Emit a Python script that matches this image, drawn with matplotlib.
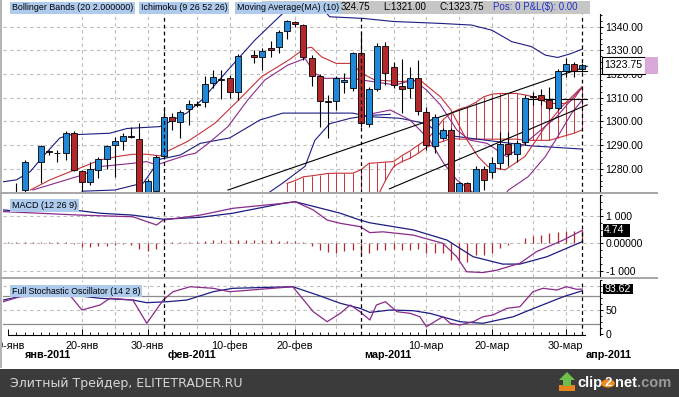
import numpy as np
import pandas as pd
import matplotlib
matplotlib.use('Agg')
import matplotlib.pyplot as plt
from matplotlib.patches import Rectangle, Circle, Polygon
from matplotlib.ticker import MultipleLocator, FixedLocator

plt.rcParams['font.family'] = ['Liberation Sans', 'DejaVu Sans']

# bar dates - the feed has a bar for every day except saturday
dates = pd.date_range('2011-01-10', '2011-04-01')
dates = dates[dates.dayofweek != 5]
slot = np.arange(len(dates))
months_ru = {1: 'янв', 2: 'фев', 3: 'мар', 4: 'апр'}

nan = np.nan
opens = [1266, 1266, 1271.1, nan, 1282.8, 1287.5, 1286.5, 1286.8, 1295.3, 1279.1,
         1274.3, 1279.3, 1284.3, 1290.2, 1291.9, 1293.9, 1292.5, 1268, 1270.5, 1285.4,
         1302.0, 1299.6, 1305.1, 1307.4, 1308.1, 1316.1, 1317.5, 1318.5, 1312.6, nan,
         1328.0, 1327.1, 1330.9, 1331.3, 1338.3, 1342.0, 1340.7, 1326.6, 1319.2, 1308.5,
         1308.6, 1316.7, 1314.0, 1328.8, 1298.9, 1313.7, 1331.8, 1323.1, 1315.0, 1314.0,
         1318.5, 1303.9, 1289.8, 1292.9, 1296.4, 1266, 1274.0, 1268, 1279.8, 1278.8,
         1282.6, 1290.5, 1286.3, 1291.1, 1310.8, 1311.2, 1309.0, 1305.6, 1321.4, 1324.1,
         1322.0]
highs = [1268, 1274, 1283.5, nan, 1290.2, 1288, 1287.9, 1295.8, 1295.8, 1279.5,
         1283, 1285, 1290, 1293.5, 1295, 1297.8, 1299.2, 1275.5, 1286, 1306.2,
         1303.5, 1305, 1309, 1308.5, 1319, 1321.7, 1321.7, 1319.5, 1328.5, nan,
         1330, 1331, 1334, 1338.5, 1343, 1342.5, 1341, 1328, 1320, 1311,
         1319, 1320.3, 1329.5, 1338, 1314.5, 1333.2, 1333.7, 1325, 1326.5, 1323,
         1326, 1306, 1303, 1297, 1297, 1274.5, 1274.5, 1281, 1281, 1285,
         1295.7, 1295.7, 1292, 1311, 1312.5, 1313.7, 1314.7, 1322, 1326.7, 1325,
         1324.75]
lows = [1262, 1262, 1266, nan, 1274, 1286, 1283, 1283.5, 1279.1, 1270.4,
        1273, 1276, 1280, 1276.7, 1288, 1292.9, 1265, 1266, 1269, 1284,
        1296.4, 1293, 1298.5, 1306, 1306.2, 1314, 1309.5, 1309.8, 1309.1, nan,
        1324.6, 1321.7, 1327, 1329, 1335, 1340, 1326, 1315, 1297.5, 1293,
        1304.8, 1311.9, 1313, 1297.5, 1297.5, 1313, 1315.4, 1314, 1303.5, 1310,
        1302.7, 1288, 1286.7, 1292.5, 1262, 1262, 1262, 1266, 1271, 1276,
        1280, 1281, 1283, 1290, 1307, 1307, 1304.8, 1305, 1318.9, 1318.8,
        1321.0]
closes = [1267, 1269, 1282.8, nan, 1289.8, 1287.0, 1286.8, 1295.3, 1279.5, 1274.3,
          1280.0, 1283.9, 1289.6, 1291.9, 1293.9, 1293.2, 1268, 1274.6, 1285.1, 1302.0,
          1300.2, 1304.1, 1307.4, 1307.0, 1315.8, 1318.6, 1317.6, 1312.6, 1327.6, nan,
          1327.3, 1329.9, 1330.2, 1337.9, 1342.5, 1341.1, 1327.3, 1319.3, 1308.6, 1308.0,
          1318.5, 1317.6, 1328.8, 1299.2, 1313.7, 1331.8, 1320.3, 1315.4, 1313.7, 1318.5,
          1304.4, 1290.1, 1302.0, 1296.4, 1266, 1274.0, 1266, 1279.8, 1275.3, 1282.4,
          1290.5, 1286.2, 1290.8, 1309.8, 1310.1, 1309.0, 1305.6, 1321.4, 1324.3, 1321.4,
          1323.75]

# indicator lines at (bar, value) points
bb_up_x = [-0.6, 1, 2.7, 4.2, 6.3, 7.5, 12.4, 14.5, 18.5, 20.1, 21.8, 23.6, 26.8, 30.1, 32.9,
           34.5, 38, 39.2, 43.3, 47, 52.7, 56.5, 59, 61.4, 63.8, 65.5, 67, 68.5, 70]
bb_up_y = [1274.5, 1275.3, 1278.8, 1285, 1293, 1294.3, 1295, 1297, 1297.8, 1300.6, 1303.6,
           1309, 1321.7, 1334.4, 1343.7, 1349, 1349, 1344.2, 1343.5, 1342.2, 1341.4, 1340.7,
           1338.5, 1333.7, 1331.6, 1328, 1327, 1328.5, 1330.5]
kijun_x = [9, 13, 16.5, 18.5, 21, 23.4, 27, 30.7, 33.5, 42, 44, 47.8, 51, 52.7, 56.3, 63.6, 70]
kijun_y = [1270.5, 1271, 1274, 1284, 1285.8, 1290.7, 1293, 1300.6, 1303.5, 1303.5, 1302,
           1301.3, 1299, 1294.5, 1292.9, 1289.7, 1288.3]
bb_low_x = [31, 33.5, 36.2, 37.4, 39.2, 41.7, 44, 46.6]
bb_low_y = [1268, 1274, 1281, 1292, 1299, 1301.3, 1302.5, 1303]
ma_x = [2.7, 5.1, 7.1, 9.2, 11.2, 13.2, 15.2, 16.9, 18.5, 19.3, 21.8, 22.8, 25.2, 28.1, 30.9,
        34.2, 36.2, 37, 38.2, 40, 41.9, 43.1, 44.7, 47.8, 50.2, 52.7, 54, 55.7, 57.3, 58.5,
        60.6, 63, 65.5, 67.5, 70]
ma_y = [1271, 1275.3, 1278.1, 1280.9, 1283.7, 1285.1, 1286.1, 1286.1, 1285.4, 1287.2, 1291.4,
        1293.6, 1299.2, 1309, 1318.9, 1325.9, 1330.9, 1331.3, 1327.3, 1324.5, 1324.5, 1320.3,
        1317.5, 1316.8, 1317.5, 1310.4, 1304.8, 1293.5, 1285.1, 1280.9, 1279.5, 1285.1,
        1297.8, 1306.2, 1314.7]
tenkan_x = [3, 9.1, 11.2, 15.2, 16.9, 18.1, 19.3, 21.8, 22.8, 24.4, 26.8, 29.2, 31.3, 34.1,
            36.2, 37.4, 38.6, 41.9, 43.1, 47.2, 49.4, 51, 52.7, 54.7, 56.3, 58.4, 60.8, 62,
            64.5, 66.9, 69.7, 70]
tenkan_y = [1271, 1277.4, 1280.9, 1282.3, 1283, 1281.6, 1283, 1285.8, 1286.5, 1290.7, 1297.8,
            1309, 1317.5, 1323.8, 1326.6, 1320.3, 1318.2, 1318.2, 1317.5, 1315.4, 1317.5,
            1313.3, 1307, 1296.4, 1292.1, 1290.7, 1285.1, 1287.9, 1295, 1302, 1313.3, 1314]
lag_x = [44, 46.6, 49, 51.4, 53.1, 54.7, 56.3, 58, 60, 61, 63.4, 65.5, 67, 68.7, 70]
lag_y = [1303, 1304.8, 1300.6, 1292.1, 1282.3, 1275.3, 1271, 1266, 1266, 1271, 1276.6,
         1285.1, 1293.5, 1303.4, 1309]

# ichimoku cloud, one value per bar from bar 34 on
cloud_start = 34
span_a = [1273.8, 1275, 1276.6, 1277, 1277.5, 1278, 1278.1, 1278.1, 1278.1, 1279.5,
          1282.3, 1282.5, 1282.8, 1283, 1285.5, 1287.5, 1290, 1292.1, 1296, 1300.6,
          1303.5, 1305.2, 1306.2, 1308, 1310.4, 1311.5, 1311.8, 1311.8, 1311.8, 1311.2,
          1310.4, 1309, 1307.6, 1307.6, 1307.6, 1309.5, 1314.5]
span_b = [1262, 1262, 1262, 1262, 1262, 1262, 1262, 1262, 1262, 1262,
          1262, 1268, 1275, 1280.9, 1283, 1284.4, 1286.5, 1289, 1290.5, 1291.5,
          1292.9, 1292.5, 1292.5, 1292.5, 1292.5, 1292.5, 1292.5, 1292.5, 1292.5, 1292,
          1292, 1292, 1292, 1293, 1294, 1295, 1296.4]

# hand drawn trend lines (start bar, start price, end bar, end price)
trend_upper = (26.8, 1271.0, 70.6, 1323.3)
trend_lower = (46.5, 1271.5, 70.6, 1307.0)
flat_lines = [(63.0, 70.6, 1309.5), (67.5, 70.6, 1321.3)]

# MACD (12 26 9)
macd_x = [-0.6, 8.8, 15.2, 18.1, 18.9, 23.4, 27.4, 33.5, 35, 37.2, 38.9, 40.5, 42.9, 44.1,
          45.7, 49.4, 53, 54.7, 55.9, 57.9, 59.6, 62.4, 64.4, 67.7, 70]
macd_y = [11.6, 10.3, 9.7, 6.7, 8.5, 10.3, 12.8, 14.6, 15.2, 12.2, 8.5, 7.3, 6.1, 3.9, 4.2,
          3.0, 0.0, -4.9, -10.4, -10.7, -9.8, -7.3, -3.1, 1.2, 4.74]
signal_x = [-0.6, 1.4, 7.9, 11.2, 15.2, 18.9, 23.4, 27.4, 33.5, 35, 40.5, 42.9, 44.1, 49.4,
            53.5, 56.7, 60.3, 62.4, 65.7, 70]
signal_y = [12.2, 11.6, 12.2, 11.0, 10.3, 8.8, 9.5, 11.0, 14.6, 15.2, 11.0, 8.5, 7.5, 4.9,
            1.2, -4.9, -7.6, -7.6, -4.9, 0.6]
hist = [0.3, 0.3, 0.3, 0.3, 0.3, 0.3, 0.3, 0.3, -0.3, -1.5,
        -1.5, -1.1, -1.1, -0.7, -0.4, -0.7, -2.2, -2.9, -2.2, -0.3,
        0.3, 0.3, 0.4, 0.5, 0.8, 1.1, 1.1, 1.1, 1.1, 1.1,
        1.1, 1.1, 1.1, 1.0, 1.0, 0.8, 0.3, -1.1, -2.6, -3.3,
        -3.7, -2.9, -2.6, -3.7, -3.7, -2.6, -2.6, -2.2, -2.6, -2.6,
        -2.2, -3.7, -3.7, -3.7, -6.1, -6.1, -6.7, -4.4, -4.4, -3.7,
        -1.8, -0.7, 0.2, 1.8, 2.6, 2.9, 3.7, 4.3, 4.6, 4.6,
        4.9]

# full stochastic (14 2 8)
k_x = [-0.6, 1.4, 7.5, 9, 11.2, 12.4, 15.2, 16.9, 18.9, 20.1, 22.2, 25, 27, 34.7, 37.2, 38.9,
       40.5, 41.7, 42.9, 44.1, 44.9, 46, 47.4, 49, 50.2, 51, 53, 53.9, 55.1, 56.7, 57.9, 59.1,
       60.8, 62.4, 64, 65.2, 66.9, 68.1, 69.3, 70]
k_y = [67.3, 77.7, 81.3, 50, 60.4, 74.4, 70.8, 22.3, 70.8, 88.1, 98.5, 95.2, 88.1, 98.5, 46.5,
       25.6, 43.1, 60.4, 46.5, 29.2, 60.4, 67.3, 46.5, 43.1, 36, 15.2, 36, 22.3, 18.8, 25.6,
       36, 39.6, 53.5, 56.9, 88.1, 95.2, 91.7, 98.5, 93.1, 93.62]
d_x = [-0.6, 1.8, 8.8, 11.2, 15.2, 16.9, 19.4, 21.8, 25, 27.4, 34.7, 37.7, 40.5, 42.9, 44.1,
       46.6, 49.4, 51.4, 55.1, 57.9, 61.6, 63.6, 67.7, 70]
d_y = [70.8, 79.2, 79.2, 74.4, 70.8, 65.2, 67.3, 70.8, 88.1, 95.2, 98.5, 81.3, 64, 53.5, 45,
       50, 48.5, 43.1, 25.6, 22.3, 36, 50, 77.7, 90]

# colours
BLUE = '#1f88d8'
RED = '#b3282c'
NAVY = '#1c1c84'
PURPLE = '#8a2a8a'
LRED = '#c8323a'
GRID = '#bdbdbd'
LABEL_BG = '#aecbee'

W, H = 679, 397
fig = plt.figure(figsize=(W / 100, H / 100), dpi=100)
fig.patch.set_facecolor('white')


def fx(x):
    return x / W


def fy(y):
    return 1 - y / H


def px_axes(x0, y0, x1, y1):
    return fig.add_axes([fx(x0), fy(y1), (x1 - x0) / W, (y1 - y0) / H])


ax_p = px_axes(3, 14, 600, 193)
ax_m = px_axes(3, 195, 600, 277)
ax_s = px_axes(3, 280, 600, 335)

xmin, xmax = -0.634, 72.17
grid_targets = ['2011-01-20', '2011-01-25', '2011-01-30', '2011-02-05', '2011-02-10',
                '2011-02-15', '2011-02-20', '2011-02-25', '2011-03-05', '2011-03-10',
                '2011-03-15', '2011-03-20', '2011-03-25', '2011-03-30']
grid_slots = dates.searchsorted(pd.to_datetime(grid_targets))
month_slots = slot[dates.day == 1]

for ax in (ax_p, ax_m, ax_s):
    ax.set_xlim(xmin, xmax)
    ax.set_facecolor('none')
    for side in ('top', 'left', 'bottom'):
        ax.spines[side].set_visible(False)
    ax.spines['right'].set_linewidth(0.8)
    ax.yaxis.tick_right()
    ax.tick_params(axis='y', which='major', direction='out', length=2.5, pad=1.5,
                   labelsize=7.6, width=0.7)
    ax.tick_params(axis='y', which='minor', direction='out', length=1.5, width=0.6)
    ax.tick_params(axis='x', which='both', bottom=False, labelbottom=False)
    for s in grid_slots:
        ax.axvline(s, color=GRID, lw=0.8, ls=(0, (3, 3)), zorder=0.5)
    for s in month_slots:
        ax.axvline(s, color='black', lw=0.9, ls=(0, (3, 2.5)), zorder=6)

# ---- price panel ----
ax_p.set_ylim(1269.74, 1345.37)
price_ticks = [1280, 1290, 1300, 1310, 1320, 1330, 1340]
ax_p.yaxis.set_major_locator(FixedLocator(price_ticks))
ax_p.set_yticklabels(['%.2f' % v for v in price_ticks])
ax_p.yaxis.set_minor_locator(MultipleLocator(2.5))
for v in price_ticks:
    ax_p.axhline(v, color=GRID, lw=0.8, ls=(0, (3, 3)), zorder=0.5)

# ichimoku cloud hatch
cl_x = slot[cloud_start:]
ax_p.vlines(cl_x, span_b, span_a, color=LRED, lw=0.7, zorder=1)
ax_p.plot(cl_x, span_a, color=LRED, lw=0.8, zorder=1)
ax_p.plot(cl_x, span_b, color=LRED, lw=0.8, zorder=1)

ax_p.plot(bb_up_x, bb_up_y, color=NAVY, lw=0.8, zorder=2)
ax_p.plot(kijun_x, kijun_y, color=NAVY, lw=0.8, zorder=2)
ax_p.plot(bb_low_x, bb_low_y, color=NAVY, lw=0.8, zorder=2)
ax_p.plot(ma_x, ma_y, color=LRED, lw=0.8, zorder=2)
ax_p.plot(tenkan_x, tenkan_y, color=PURPLE, lw=0.8, zorder=2)
ax_p.plot(lag_x, lag_y, color=PURPLE, lw=0.8, zorder=2)

for x0, y0, x1, y1 in (trend_upper, trend_lower):
    ax_p.plot([x0, x1], [y0, y1], color='black', lw=0.8, zorder=3)
for x0, x1, yv in flat_lines:
    ax_p.plot([x0, x1], [yv, yv], color='black', lw=0.8, zorder=3)

# candles
o = np.array(opens, float)
h = np.array(highs, float)
lo = np.array(lows, float)
c = np.array(closes, float)
ok = ~np.isnan(o)
up = ok & (c >= o)
dn = ok & (c < o)
body_lo = np.minimum(o, c)
body_h = np.maximum(np.abs(c - o), 0.35)
ax_p.vlines(slot[ok], lo[ok], h[ok], color='black', lw=0.8, zorder=4)
ax_p.bar(slot[up], body_h[up], bottom=body_lo[up], width=0.72, color=BLUE,
         edgecolor='black', linewidth=0.6, zorder=5)
ax_p.bar(slot[dn], body_h[dn], bottom=body_lo[dn], width=0.72, color=RED,
         edgecolor='black', linewidth=0.6, zorder=5)

# last price box on the right axis
last = closes[-1]
ytr = ax_p.get_yaxis_transform()
ax_p.add_patch(Rectangle((1.0034, last - 3.6), 0.072, 7.2, transform=ytr, clip_on=False,
                         fc='white', ec='black', lw=0.8, zorder=8))
ax_p.add_patch(Rectangle((1.0754, last - 3.6), 0.0218, 7.2, transform=ytr, clip_on=False,
                         fc='#d8a8d8', ec='none', zorder=8))
ax_p.text(1.0075, last, '%.2f' % last, transform=ytr, va='center', ha='left',
          fontsize=7.6, zorder=9)

# ---- MACD panel ----
ax_m.set_ylim(-12.32, 17.66)
ax_m.yaxis.set_major_locator(FixedLocator([-10, 0, 10]))
ax_m.set_yticklabels(['-1 000', '0.00000', '1 000'])
ax_m.yaxis.set_minor_locator(MultipleLocator(2.5))
for v in (-10, 0, 10):
    ax_m.axhline(v, color=GRID, lw=0.8, ls=(0, (3, 3)), zorder=0.5)
ax_m.vlines(slot, 0, hist, color=RED, lw=0.9, zorder=2)
ax_m.plot(signal_x, signal_y, color=NAVY, lw=0.9, zorder=3)
ax_m.plot(macd_x, macd_y, color=PURPLE, lw=0.9, zorder=3)
ytr = ax_m.get_yaxis_transform()
ax_m.add_patch(Rectangle((1.005, macd_y[-1] - 2.5), 0.046, 5.0, transform=ytr,
                         clip_on=False, fc='black', ec='none', zorder=8))
ax_m.text(1.007, macd_y[-1], '%.2f' % macd_y[-1], transform=ytr, va='center', ha='left',
          fontsize=7.6, color='white', zorder=9)

# ---- stochastic panel ----
ax_s.set_ylim(-2.08, 112.5)
ax_s.yaxis.set_major_locator(FixedLocator([0, 50]))
ax_s.set_yticklabels(['0', '50'])
ax_s.yaxis.set_minor_locator(MultipleLocator(12.5))
for v in (50, 100):
    ax_s.axhline(v, color=GRID, lw=0.8, ls=(0, (3, 3)), zorder=0.5)
for v in (20, 80):
    ax_s.axhline(v, color='#8c8c8c', lw=0.9, zorder=0.6)
ax_s.plot(d_x, d_y, color=NAVY, lw=0.9, zorder=3)
ax_s.plot(k_x, k_y, color=PURPLE, lw=0.9, zorder=3)
ytr = ax_s.get_yaxis_transform()
ax_s.add_patch(Rectangle((1.005, k_y[-1] - 10.5), 0.05, 21, transform=ytr,
                         clip_on=False, fc='black', ec='none', zorder=8))
ax_s.text(1.007, k_y[-1], '%.2f' % k_y[-1], transform=ytr, va='center', ha='left',
          fontsize=7.6, color='white', zorder=9)

# x axis under the stochastic panel
ax_s.spines['bottom'].set_visible(True)
ax_s.spines['bottom'].set_linewidth(0.8)
ax_s.spines['bottom'].set_bounds(0, 70.4)
label_slots = slot[np.isin(dates.day, [10, 20, 30])]
ax_s.set_xticks(label_slots)
ax_s.set_xticklabels(['%d-%s' % (dates[i].day, months_ru[dates[i].month]) for i in label_slots])
ax_s.set_xticks(slot, minor=True)
ax_s.tick_params(axis='x', which='major', bottom=True, labelbottom=True, direction='in',
                 length=4, width=0.7, pad=4, labelsize=7.8)
ax_s.tick_params(axis='x', which='minor', bottom=True, direction='in', length=2.5, width=0.6)

xtr = ax_s.get_xaxis_transform()
ax_s.text(0.037, -0.36, '%s-2011' % months_ru[1], transform=ax_s.transAxes, fontsize=7.8,
          fontweight='bold', ha='left', va='center')
for s in month_slots:
    ax_s.text(s + 0.45, -0.36, '%s-%d' % (months_ru[dates[s].month], dates[s].year),
              transform=xtr, fontsize=7.8, fontweight='bold', ha='left', va='center',
              clip_on=False)

# ---- frame pieces ----
fig.add_artist(Rectangle((0, fy(368)), 2 / W, 368 / H, transform=fig.transFigure,
                         fc='#b4b4b4', ec='none', zorder=1))
for yd in (193.3, 278.3):
    fig.add_artist(Rectangle((0, fy(yd + 1)), 658 / W, 2 / H, transform=fig.transFigure,
                             fc='#a8a8a8', ec='none', zorder=1))

# header row (the high price is partly hidden behind the MA label in the original)
fig.add_artist(Rectangle((fx(262), fy(13.5)), 328 / W, 12.5 / H, transform=fig.transFigure,
                         fc='#c6c6c6', ec='none', zorder=2))
fig.text(fx(341), fy(7.5), ('%.2f' % highs[-1])[1:], ha='left', va='center', fontsize=7,
         zorder=3)
fig.text(fx(383), fy(7.5), 'L:%.2f' % lows[-1], ha='left', va='center', fontsize=7, zorder=3)
fig.text(fx(440), fy(7.5), 'C:%.2f' % closes[-1], ha='left', va='center', fontsize=7, zorder=3)
fig.text(fx(493), fy(7.5), 'Pos: 0 P&L($): 0.00', ha='left', va='center', fontsize=7,
         color='#2232c4', zorder=3)
box = dict(boxstyle='square,pad=0.18', fc=LABEL_BG, ec='none')
for xp, txt in ((12, 'Bollinger Bands (20 2.000000)'), (141, 'Ichimoku (9 26 52 26)'),
                (237, 'Moving Average(MA) (10)')):
    fig.text(fx(xp), fy(8), txt, ha='left', va='center', fontsize=6.4, bbox=box, zorder=4)
fig.text(fx(12), fy(205.5), 'MACD (12 26 9)', ha='left', va='center', fontsize=6.5,
         bbox=box, zorder=4)
fig.text(fx(12), fy(291), 'Full Stochastic Oscillator (14 2 8)', ha='left', va='center',
         fontsize=6.3, bbox=box, zorder=4)

# footer band
fig.add_artist(Rectangle((0, 0), 1, (H - 369) / H, transform=fig.transFigure,
                         fc='#3b3b3b', ec='none', zorder=1))
fig.text(fx(10), fy(383), 'Элитный Трейдер, ELITETRADER.RU', family='DejaVu Sans',
         fontsize=9, color='#d6d6d6', ha='left', va='center', zorder=2)
fig.add_artist(Polygon([(fx(559), fy(391)), (fx(559), fy(385)), (fx(575), fy(385)),
                        (fx(575), fy(391))], closed=True, transform=fig.transFigure,
                       fc='#e8841c', ec='none', zorder=2))
fig.add_artist(Polygon([(fx(563), fy(386)), (fx(563), fy(380)), (fx(559), fy(380)),
                        (fx(567), fy(372)), (fx(575), fy(380)), (fx(571), fy(380)),
                        (fx(571), fy(386))], closed=True, transform=fig.transFigure,
                       fc='#6cc04a', ec='none', zorder=3))
fig.text(fx(577), fy(383), 'clip', fontsize=10.5, fontweight='bold', color='white',
         ha='left', va='center', zorder=3)
fig.add_artist(Circle((fx(608), fy(383.5)), 7 / W, transform=fig.transFigure,
                      fc='#f08a1c', ec='none', zorder=3))
fig.text(fx(608), fy(383), '2', fontsize=9.5, fontweight='bold', color='white',
         ha='center', va='center', zorder=4)
fig.text(fx(615), fy(383), 'net', fontsize=10.5, fontweight='bold', color='white',
         ha='left', va='center', zorder=3)
fig.text(fx(637), fy(383), '.com', fontsize=10.5, fontweight='bold', color='#9a9a9a',
         ha='left', va='center', zorder=3)

fig.savefig('out.png', dpi=100)
